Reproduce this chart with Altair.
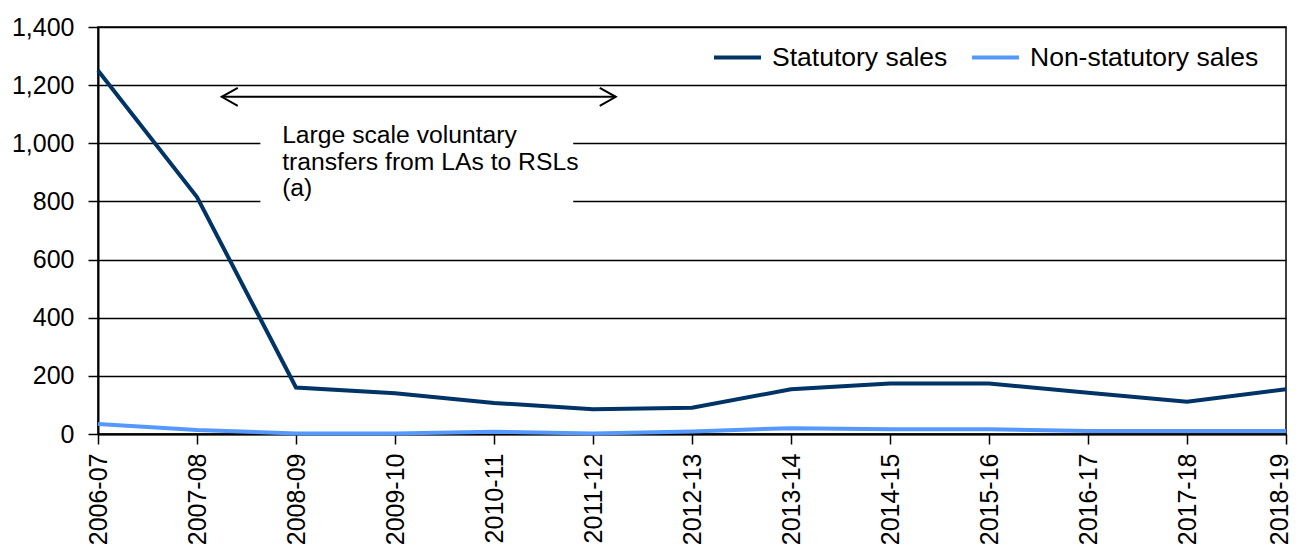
import altair as alt
import pandas as pd

years = ["2006-07", "2007-08", "2008-09", "2009-10", "2010-11", "2011-12", "2012-13",
         "2013-14", "2014-15", "2015-16", "2016-17", "2017-18", "2018-19"]
statutory = [1250, 815, 160, 140, 107, 85, 90, 154, 174, 174, 142, 111, 154]
non_statutory = [34, 14, 2, 2, 8, 2, 9, 20, 16, 16, 10, 10, 10]
series_names = ["Statutory sales", "Non-statutory sales"]
series_colors = ["#003366", "#5599FF"]
y_ticks = [0, 200, 400, 600, 800, 1000, 1200, 1400]

# annotation (data coordinates: x = year index, y = value)
arrow_x = [1.25, 5.23]
arrow_y = 1160
box_x = [1.64, 4.80]
box_y = [760, 1097]
note_x = 1.86
note_y = 1000
note_lines = ["Large scale voluntary", "transfers from LAs to RSLs", "(a)"]

FONT = "Liberation Sans"

rows = []
for i, yr in enumerate(years):
    rows.append({"idx": i, "year": yr, "series": series_names[0], "value": statutory[i]})
    rows.append({"idx": i, "year": yr, "series": series_names[1], "value": non_statutory[i]})
df = pd.DataFrame(rows)

label_expr = "[" + ",".join("'%s'" % y for y in years) + "][datum.value]"

x_scale = alt.Scale(domain=[0, len(years) - 1], nice=False, zero=False)
y_scale = alt.Scale(domain=[0, 1400], nice=False)

last_idx = len(years) - 1
x_axis = alt.Axis(values=list(range(len(years))), labelExpr=label_expr, labelAngle=-90,
                  grid=False, title=None, tickSize=10, tickColor="black", tickWidth=1.5,
                  domainColor="black", domainWidth=2, labelFontSize=25, labelFont=FONT,
                  labelColor="black", labelPadding=9, labelLimit=0,
                  labelOffset={"condition": {"test": "datum.value == %d" % last_idx, "value": -7},
                               "value": 0})
y_axis = alt.Axis(values=y_ticks, format=",.0f", grid=True, gridColor="black", gridWidth=1.5,
                  title=None, tickSize=10, tickColor="black", tickWidth=1.5,
                  domainColor="black", domainWidth=2, labelFontSize=25, labelFont=FONT,
                  labelColor="black", labelPadding=14, labelLimit=0)


def X(field):
    return alt.X(field, type="quantitative", scale=x_scale, axis=x_axis)


def Y(field):
    return alt.Y(field, type="quantitative", scale=y_scale, axis=y_axis)


lines = alt.Chart(df).mark_line(strokeWidth=4).encode(
    x=X("idx"),
    y=Y("value"),
    color=alt.Color("series:N",
                    scale=alt.Scale(domain=series_names, range=series_colors),
                    sort=series_names,
                    legend=alt.Legend(title=None, orient="none", legendX=614, legendY=5,
                                      direction="horizontal", symbolType="stroke",
                                      symbolStrokeWidth=4, symbolSize=2209,
                                      labelFontSize=26.5, labelFont=FONT, labelColor="black",
                                      labelOffset=9, columnPadding=16, padding=0,
                                      labelLimit=0)),
)

box_df = pd.DataFrame({"idx": [box_x[0]], "idx2": [box_x[1]], "value": [box_y[0]], "value2": [box_y[1]]})
box = alt.Chart(box_df).mark_rect(color="white").encode(
    x=X("idx"), x2="idx2", y=Y("value"), y2="value2"
)

arrow_df = pd.DataFrame({"idx": [arrow_x[0]], "idx2": [arrow_x[1]], "value": [arrow_y]})
arrow = alt.Chart(arrow_df).mark_rule(color="black", strokeWidth=2).encode(
    x=X("idx"), x2="idx2", y=Y("value")
)

left_df = pd.DataFrame({"idx": [arrow_x[0]], "value": [arrow_y]})
right_df = pd.DataFrame({"idx": [arrow_x[1]], "value": [arrow_y]})
head_left = alt.Chart(left_df).mark_point(shape="M2,-1.125L0,0L2,1.125", size=256,
                                          filled=False, stroke="black", strokeWidth=2,
                                          opacity=1).encode(x=X("idx"), y=Y("value"))
head_right = alt.Chart(right_df).mark_point(shape="M-2,-1.125L0,0L-2,1.125", size=256,
                                            filled=False, stroke="black", strokeWidth=2,
                                            opacity=1).encode(x=X("idx"), y=Y("value"))

note_df = pd.DataFrame({"idx": [note_x], "value": [note_y]})
note = alt.Chart(note_df).mark_text(align="left", baseline="alphabetic", fontSize=24.7,
                                    font=FONT, lineHeight=26.5, color="black").encode(
    x=X("idx"), y=Y("value"), text=alt.value(note_lines)
)

chart = alt.layer(box, arrow, head_left, head_right, note, lines).properties(
    width=1188, height=407,
    autosize=alt.AutoSizeParams(type="none"),
    padding={"left": 90, "top": 19, "right": 5, "bottom": 115},
    background="white",
).configure_view(stroke="black", strokeWidth=1.5)

chart.save("out.html", embed_options={"renderer": "svg", "actions": False})
